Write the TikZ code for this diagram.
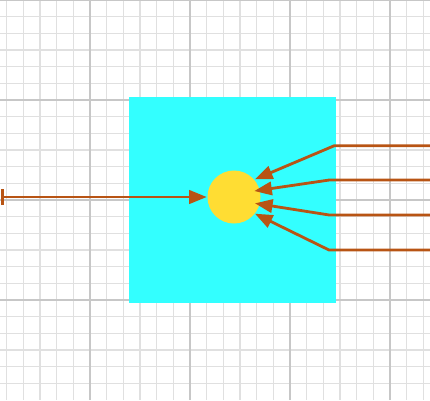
\documentclass[tikz,border=0pt]{standalone}
\usepackage{tikz}
\usetikzlibrary{arrows.meta}
\definecolor{boxcyan}{RGB}{51,255,255}
\definecolor{sunyellow}{RGB}{255,221,51}
\definecolor{raybrown}{RGB}{184,84,20}
\tikzstyle{minorgrid} = [draw=black!12, line width=0.35pt]
\tikzstyle{majorgrid} = [draw=black!22, line width=0.45pt]
\tikzstyle{field} = [fill=boxcyan, rectangle, inner sep=0pt, minimum width=2.07cm, minimum height=2.06cm]
\tikzstyle{sun} = [fill=sunyellow, circle, inner sep=0pt, minimum size=0.53cm]
\tikzstyle{ray} = [draw=raybrown, line width=0.8pt, -{Triangle[length=5pt,width=3.8pt]}]

\begin{document}
\begin{tikzpicture}
\useasboundingbox (0,0) rectangle (4.3,4);
% background grid
\foreach \i in {1,...,26} \draw [minorgrid] ({-0.1+\i/6},0) -- ++(0,4);
\foreach \j in {1,...,24} \draw [minorgrid] (0,\j/6) -- ++(4.3,0);
\foreach \i in {1,...,4} \draw [majorgrid] ({\i-0.1},0) -- ++(0,4);
\foreach \j in {1,...,4} \draw [majorgrid] (0,\j) -- ++(4.3,0);
% box and sun
\node [field] (box) at (2.325,2.0) {};
\node [sun] (sun) at (2.34,2.03) {};
% incoming rays
\coordinate (src) at (0.008,2.03);
\draw [ray, {Bar[width=4.6pt]}-{Triangle[length=5pt,width=3.8pt]}] (src) -- (sun.west);
\coordinate (in1) at (4.3,2.543);
\coordinate (in2) at (4.3,2.2);
\coordinate (in3) at (4.3,1.85);
\coordinate (in4) at (4.3,1.5);
\draw [ray] (in1) -- (3.343,2.543) -- ([shift={(0.21,0.177)}]sun.center);
\draw [ray] (in2) -- (3.293,2.2) -- ([shift={(0.203,0.06)}]sun.center);
\draw [ray] (in3) -- (3.293,1.85) -- ([shift={(0.21,-0.063)}]sun.center);
\draw [ray] (in4) -- (3.29,1.5) -- ([shift={(0.21,-0.167)}]sun.center);
\end{tikzpicture}
\end{document}
